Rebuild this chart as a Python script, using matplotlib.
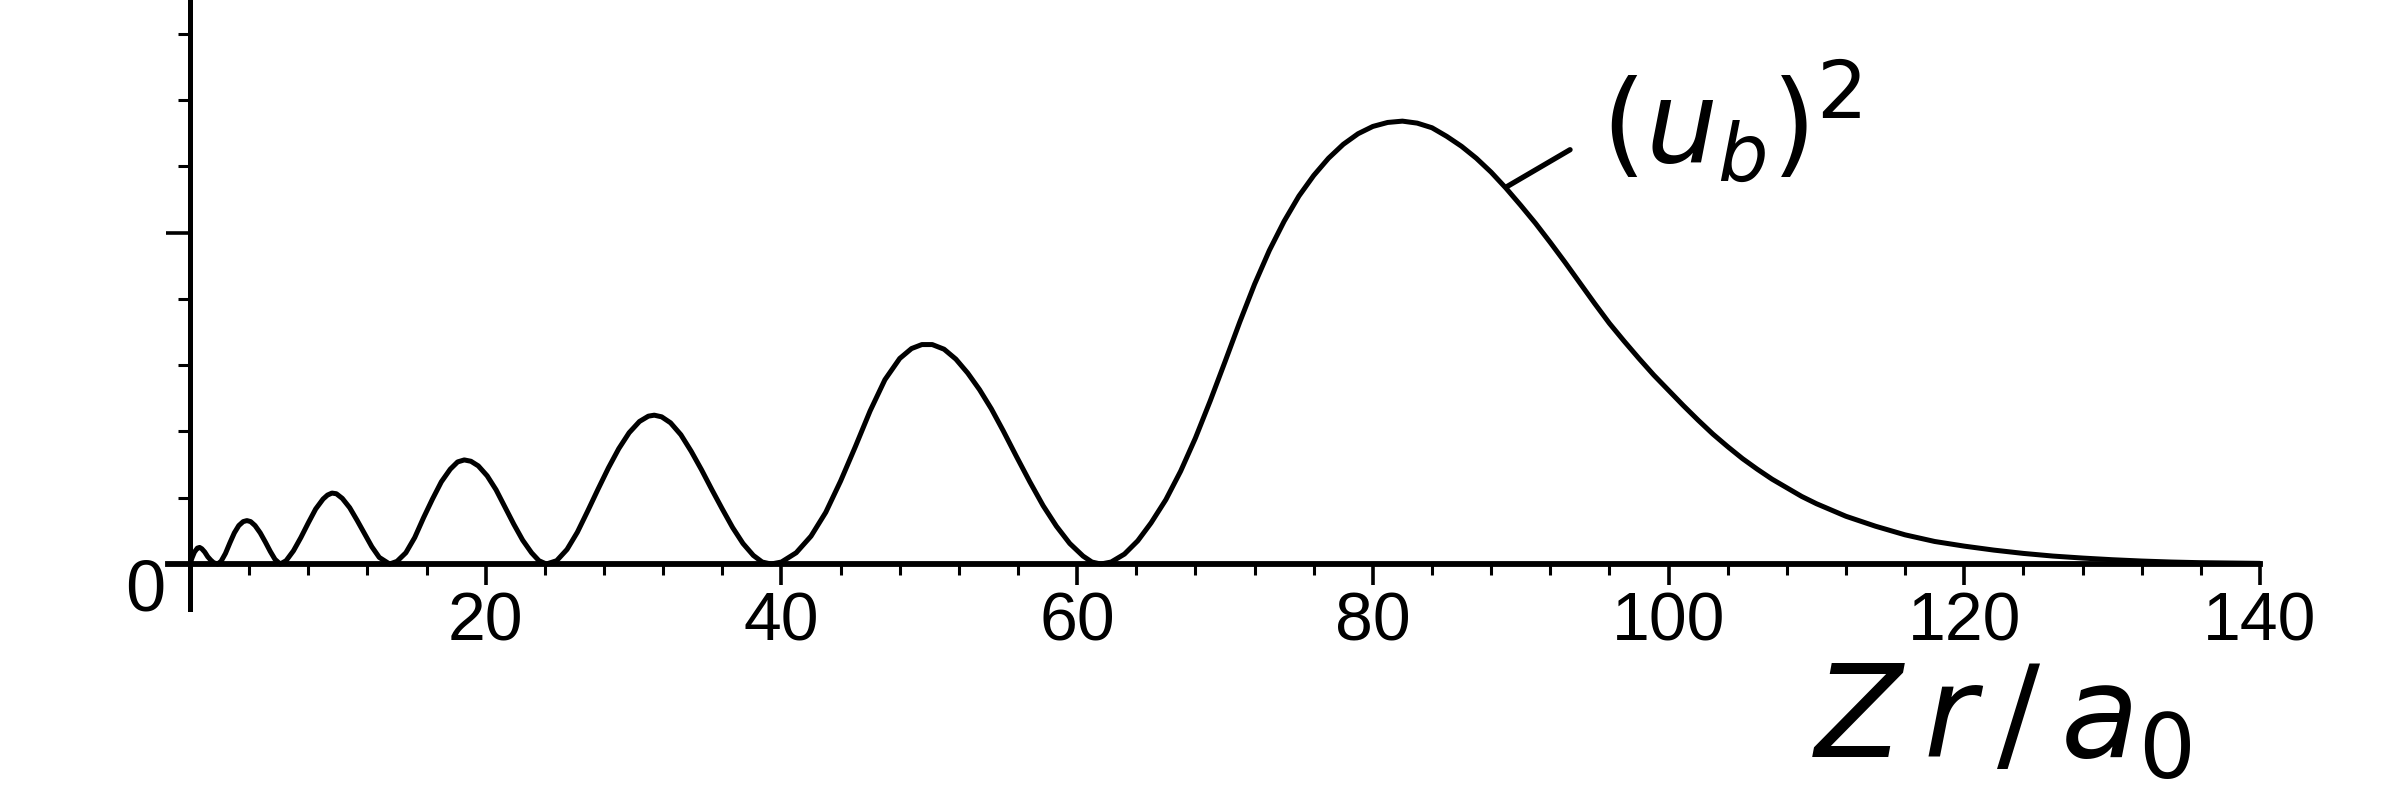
import numpy as np
import matplotlib
matplotlib.use("Agg")
import matplotlib.pyplot as plt
from matplotlib.ticker import FixedLocator, NullFormatter

plt.rcParams['font.family'] = ['Liberation Sans', 'DejaVu Sans']

# ---- data (x = Zr/a0, y = (u_b)^2 in minor-tick units)
r_vals = [0.0, 0.15, 0.3, 0.5, 0.65, 0.8, 1.0, 1.2, 1.4, 1.6, 1.86,
          2.1, 2.4, 2.7, 3.0, 3.3, 3.6, 3.85, 4.1, 4.4, 4.75, 5.1, 5.43, 5.75, 6.1,
          6.5, 7.0, 7.5, 8.0, 8.5, 9.0, 9.3, 9.6, 9.9, 10.3, 10.8, 11.3, 11.8, 12.3, 12.8, 13.5,
          14.0, 14.6, 15.2, 15.8, 16.4, 17.0, 17.6, 18.1, 18.55, 19.0, 19.5, 20.1, 20.7,
          21.3, 21.9, 22.5, 23.1, 23.6, 24.1,
          24.8, 25.5, 26.2, 26.9, 27.6, 28.3, 29.0, 29.7, 30.4, 31.0, 31.4, 31.9, 32.5,
          33.2, 33.9, 34.6, 35.3, 36.0, 36.7, 37.4, 38.1, 38.7, 39.3,
          40.0, 41.0, 42.0, 43.0, 44.0, 45.0, 46.0, 47.0, 48.0, 48.8, 49.5, 50.2, 51.0,
          51.8, 52.6, 53.4, 54.2, 55.0, 55.9, 56.8, 57.7, 58.6, 59.5, 60.4, 61.0, 61.6,
          62.3, 63.2, 64.1, 65.0, 66.0, 67.0, 68.0, 69.0, 70.0, 71.0, 72.0, 73.0, 74.0,
          75.0, 76.0, 77.0, 78.0, 79.0, 80.0, 81.0, 82.0, 83.0, 84.0, 85.0, 86.0, 87.0,
          88.0, 89.0, 90.0, 91.0, 92.0, 93.0, 94.0, 95.0, 96.0, 97.0, 98.0, 99.0, 100.0,
          101.0, 102.0, 103.0, 104.0, 105.0, 106.0, 107.0, 108.0, 109.0, 110.0, 112.0,
          114.0, 116.0, 118.0, 120.0, 122.0, 124.0, 126.0, 128.0, 130.0, 132.0, 134.0,
          136.0, 138.0, 140.0]
u2_vals = [0.0, 0.10, 0.18, 0.24, 0.25, 0.23, 0.18, 0.11, 0.06, 0.02, 0.0,
           0.04, 0.16, 0.32, 0.47, 0.58, 0.64, 0.655, 0.64, 0.58, 0.47, 0.33, 0.19, 0.07, 0.0,
           0.05, 0.20, 0.40, 0.62, 0.83, 0.98, 1.04, 1.07, 1.06, 0.99, 0.85, 0.66, 0.46, 0.26, 0.10, 0.0,
           0.04, 0.17, 0.40, 0.70, 0.98, 1.24, 1.43, 1.54, 1.57, 1.55, 1.48, 1.33, 1.12,
           0.86, 0.60, 0.36, 0.17, 0.05, 0.0,
           0.05, 0.22, 0.48, 0.80, 1.13, 1.45, 1.74, 1.98, 2.15, 2.23, 2.245, 2.22, 2.13,
           1.95, 1.70, 1.42, 1.12, 0.83, 0.55, 0.31, 0.13, 0.03, 0.0,
           0.03, 0.17, 0.42, 0.78, 1.25, 1.77, 2.31, 2.78, 3.10, 3.25, 3.31, 3.31, 3.24,
           3.09, 2.88, 2.63, 2.34, 2.01, 1.62, 1.24, 0.88, 0.57, 0.31, 0.12, 0.03, 0.0,
           0.03, 0.15, 0.35, 0.62, 0.97, 1.40, 1.90, 2.46, 3.05, 3.65, 4.22, 4.73, 5.17,
           5.55, 5.86, 6.12, 6.33, 6.49, 6.60, 6.66, 6.68, 6.65, 6.58, 6.45, 6.30, 6.12,
           5.91, 5.67, 5.41, 5.14, 4.85, 4.55, 4.24, 3.93, 3.63, 3.36, 3.10, 2.85, 2.62,
           2.39, 2.17, 1.96, 1.77, 1.59, 1.43, 1.28, 1.15, 1.02, 0.91, 0.72,
           0.57, 0.44, 0.34, 0.27, 0.21, 0.16, 0.12, 0.09, 0.065, 0.045, 0.03,
           0.02, 0.015, 0.01]

x_major = [20, 40, 60, 80, 100, 120, 140]
x_major_labels = ['20', '40', '60', '80', '100', '120', '140']
x_minor = [v for v in range(4, 140, 4) if v % 20 != 0]
y_major = [5]
y_minor = [1, 2, 3, 4, 6, 7, 8]

curve_label = r'$(u_b)^2$'
axis_label = r'$Z\,r\,/\,a_0$'

fig = plt.figure(figsize=(24, 8.1), dpi=100)
ax = fig.add_axes([0, 0, 1, 1])
ax.set_xlim(-12.85, 149.47)
ax.set_ylim(-3.71, 8.507)

ax.plot(r_vals, u2_vals, color='black', lw=3.6, solid_joinstyle='round',
        solid_capstyle='round')

for s in ['top', 'right']:
    ax.spines[s].set_visible(False)
ax.spines['bottom'].set_position(('data', 0))
ax.spines['left'].set_position(('data', 0))
ax.spines['bottom'].set_bounds(-1.5, 140)
ax.spines['left'].set_bounds(-0.68, 8.6)
ax.spines['bottom'].set_linewidth(4.2)
ax.spines['left'].set_linewidth(3.6)

ax.xaxis.set_major_locator(FixedLocator(x_major))
ax.set_xticklabels(x_major_labels)
ax.xaxis.set_minor_locator(FixedLocator(x_minor))
ax.yaxis.set_major_locator(FixedLocator(y_major))
ax.yaxis.set_minor_locator(FixedLocator(y_minor))
ax.yaxis.set_major_formatter(NullFormatter())

ax.tick_params(axis='x', which='major', direction='out', length=15, width=2.6,
               labelsize=49, pad=4)
ax.tick_params(axis='x', which='minor', direction='out', length=8, width=2.2)
ax.tick_params(axis='y', which='major', direction='out', length=17, width=2.6)
ax.tick_params(axis='y', which='minor', direction='out', length=9, width=2.2)

ax.text(-3.04, -0.42, '0', fontsize=52, ha='center', va='center')

ax.annotate('', xy=(88.9, 5.67), xytext=(93.5, 6.27),
            arrowprops=dict(arrowstyle='-', lw=3.8, color='black'))
ax.text(95.4, 6.64, curve_label, fontsize=82, ha='left', va='center')
ax.text(122.5, -2.41, axis_label, fontsize=92, ha='center', va='center')

fig.savefig('out.png', dpi=100, facecolor='white')
